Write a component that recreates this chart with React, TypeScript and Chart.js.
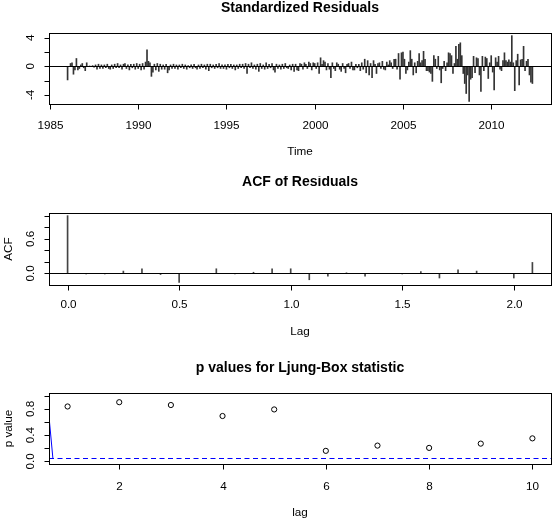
import { useEffect, useRef } from "react";
import { Chart, registerables } from "chart.js";

Chart.register(...registerables);

const FONT_FAMILY = '"Liberation Sans", Arial, Helvetica, sans-serif';
const TICK_FONT = `11.7px ${FONT_FAMILY}`;
const TITLE_FONT = `bold 14px ${FONT_FAMILY}`;
const WIDTH = 559;

// Monthly standardized residuals, Jan 1986 – May 2012
const residualStartYear = 1986;
const residualsPerYear = 12;
const residuals = [
  -1.9, 0.0, 0.4, 0.5, -1.1, -0.5, 1.1, -0.5, -0.3, 0.2, 0.4, -0.2, // 1986
  -0.6, 0.5, 0.0, 0.05, -0.05, 0.1, -0.1, 0.2, -0.4, 0.3, -0.3, 0.2, // 1987
  -0.3, 0.2, -0.2, 0.3, -0.3, -0.4, 0.2, -0.3, 0.3, -0.2, 0.4, -0.2, // 1988
  0.2, -0.4, 0.3, 0.4, -0.3, 0.2, -0.5, 0.3, -0.2, 0.3, -0.4, 0.4, // 1989
  -0.3, 0.3, -0.5, 0.4, -0.4, 0.6, 2.3, 0.7, 0.5, -1.4, -0.8, 0.3, // 1990
  -0.5, 0.4, -0.7, 0.3, -0.4, 0.2, -0.4, 0.3, -0.9, -0.5, 0.2, -0.3, // 1991
  0.3, -0.3, 0.2, -0.4, 0.2, -0.2, 0.3, -0.3, 0.2, -0.4, 0.1, -0.2, // 1992
  0.2, -0.3, 0.3, -0.2, -0.4, 0.2, -0.3, 0.3, -0.2, 0.2, -0.4, 0.3, // 1993
  -0.6, 0.3, -0.2, 0.2, -0.3, 0.3, -0.2, 0.4, -0.3, 0.2, -0.3, 0.2, // 1994
  -0.4, 0.3, -0.2, 0.3, -0.3, 0.2, -0.5, 0.2, -0.3, 0.3, -0.2, 0.3, // 1995
  -0.3, 0.4, -1.0, 0.3, -0.2, 0.5, -0.3, 0.2, -0.4, 0.3, -0.7, 0.4, // 1996
  -0.3, 0.2, -0.4, 0.5, -0.3, 0.3, -0.2, 0.4, -0.5, -0.8, 0.3, -0.3, // 1997
  0.2, -0.4, 0.3, -0.3, 0.4, -0.2, -0.3, 0.2, -0.5, 0.3, -0.7, 0.3, // 1998
  -0.5, -0.6, 0.4, 0.3, -0.4, 0.5, 0.3, -0.3, 0.6, 0.4, -0.5, 0.5, // 1999
  0.4, -0.3, 0.5, -1.0, 1.2, 0.3, 0.8, 0.6, -0.5, 0.4, -0.4, -1.6, // 2000
  0.5, -0.3, -0.6, 0.5, 0.3, -0.4, -0.7, 0.4, -0.3, -0.9, 0.3, 0.4, // 2001
  -0.3, 0.6, -0.5, -0.5, 0.3, -0.2, 0.3, -0.6, 0.5, -0.4, 1.0, -0.9, // 2002
  0.8, -1.2, 0.4, -1.6, 0.8, 0.3, -1.0, 0.4, 0.5, -0.3, 0.7, -0.4, // 2003
  -0.5, 0.6, 0.2, 0.8, 0.5, -0.3, 1.0, 1.0, -0.4, 1.8, -1.8, 1.9, // 2004
  2.0, 1.0, -1.0, -0.5, 0.6, 2.2, 1.0, -1.2, 0.5, -0.9, 0.7, 1.8, // 2005
  0.5, 0.8, 2.1, 1.0, -0.6, -0.6, -0.8, -1.0, -2.1, 1.5, 1.0, -0.3, // 2006
  1.4, -0.5, -2.3, -0.3, 0.7, -0.6, 0.5, 1.9, 1.8, 1.5, -1.0, 0.4, // 2007
  2.8, 1.0, 3.1, 3.3, 1.5, -1.0, -2.4, -3.8, -1.2, -4.9, -1.8, -1.6, // 2008
  1.4, -0.9, 1.2, 1.1, -1.2, -3.5, 1.4, -0.6, 1.3, 1.1, -1.7, 0.5, // 2009
  1.5, -0.8, -3.3, 1.2, 0.6, 1.4, -0.4, -0.6, 0.8, 1.9, 0.8, 0.6, // 2010
  0.9, 0.6, 4.3, 0.5, -3.4, 0.8, 1.7, -2.6, 0.9, 1.0, 2.8, -0.6, // 2011
  0.7, 1.0, -1.2, -2.2, -2.4, // 2012
];
const residualTimeRange = [1984.947, 2013.387];
const residualValueRange = [-5.27, 4.67];
const residualTimeTicks = [1985, 1990, 1995, 2000, 2005, 2010];
const residualValueTicks = [-4, -2, 0, 2, 4];
const residualValueLabels = [-4, 0, 4];

// Autocorrelation of the residuals at lags 0..25 months (lag shown in years)
const acfValues = [
  1.0, -0.01, -0.01, 0.04, 0.08, -0.02, -0.155, 0.0, 0.08, -0.01, 0.02, 0.08,
  0.08, -0.11, -0.05, 0.01, -0.05, 0.0, -0.01, 0.03, -0.08, 0.06, 0.04, 0.0,
  -0.08, 0.19,
];
const acfLagRange = [-0.0833, 2.1667];
const acfValueRange = [-0.201, 1.046];
const acfLagTicks = [0, 0.5, 1, 1.5, 2];
const acfValueTicks = [0, 0.2, 0.4, 0.6, 0.8, 1];
const acfValueLabels = [0, 0.6];

// Ljung-Box p values for lags 1..10
const ljungLags = [1, 2, 3, 4, 5, 6, 7, 8, 9, 10];
const ljungPValues = [0.835, 0.9, 0.857, 0.69, 0.79, 0.16, 0.24, 0.205, 0.27, 0.35];
const ljungTraceLags = [0.64, 0.715];
const ljungTraceValues = [0.68, 0.05];
const significanceLevel = 0.05;
const ljungLagRange = [0.64, 10.36];
const pValueRange = [-0.04, 1.04];
const ljungLagTicks = [2, 4, 6, 8, 10];
const pValueTicks = [0, 0.2, 0.4, 0.6, 0.8, 1];
const pValueLabels = [0, 0.4, 0.8];

type RefLine = { value: number; color: string; dash: number[] };
type FrameSpec = {
  title: string;
  titleY: number;
  xLabel: string;
  xLabelY: number;
  yLabel: string;
  xTicks: number[];
  xDigits: number;
  xTickLabelY: number;
  yTicks: number[];
  yLabels: number[];
  yDigits: number;
  refLines: RefLine[];
};

const TICK_LEN = 5;
const Y_TICK_LABEL_X = 31;
const Y_LABEL_X = 8.5;

// Draws an R-style frame: box, detached axes with outward ticks, rotated y labels, titles
function framePlugin(spec: FrameSpec) {
  return {
    id: "frame",
    afterDatasetsDraw(chart: any) {
      const { ctx, chartArea: a } = chart;
      const xs = chart.scales.x;
      const ys = chart.scales.y;
      const L = Math.round(a.left) + 0.5;
      const R = Math.round(a.right) + 0.5;
      const T = Math.round(a.top) + 0.5;
      const B = Math.round(a.bottom) + 0.5;

      ctx.save();
      ctx.beginPath();
      ctx.rect(a.left, a.top, a.right - a.left, a.bottom - a.top);
      ctx.clip();
      ctx.lineWidth = 1;
      for (const line of spec.refLines) {
        const y = Math.round(ys.getPixelForValue(line.value)) + 0.5;
        ctx.strokeStyle = line.color;
        ctx.setLineDash(line.dash);
        ctx.beginPath();
        ctx.moveTo(a.left, y);
        ctx.lineTo(a.right, y);
        ctx.stroke();
      }
      ctx.restore();

      ctx.save();
      ctx.strokeStyle = "#000";
      ctx.fillStyle = "#000";
      ctx.lineWidth = 1;
      ctx.setLineDash([]);
      ctx.strokeRect(L, T, R - L, B - T);

      // x axis
      const xp = spec.xTicks.map((v) => Math.round(xs.getPixelForValue(v)) + 0.5);
      ctx.beginPath();
      ctx.moveTo(xp[0], B);
      ctx.lineTo(xp[xp.length - 1], B);
      for (const x of xp) {
        ctx.moveTo(x, B);
        ctx.lineTo(x, B + TICK_LEN);
      }
      ctx.stroke();
      ctx.font = TICK_FONT;
      ctx.textAlign = "center";
      ctx.textBaseline = "middle";
      spec.xTicks.forEach((v, i) => {
        ctx.fillText(v.toFixed(spec.xDigits), xp[i], spec.xTickLabelY);
      });

      // y axis
      const yp = spec.yTicks.map((v) => Math.round(ys.getPixelForValue(v)) + 0.5);
      ctx.beginPath();
      ctx.moveTo(L, yp[0]);
      ctx.lineTo(L, yp[yp.length - 1]);
      for (const y of yp) {
        ctx.moveTo(L, y);
        ctx.lineTo(L - TICK_LEN, y);
      }
      ctx.stroke();
      for (const v of spec.yLabels) {
        const y = ys.getPixelForValue(v);
        ctx.save();
        ctx.translate(Y_TICK_LABEL_X, y);
        ctx.rotate(-Math.PI / 2);
        ctx.fillText(v.toFixed(spec.yDigits), 0, 0);
        ctx.restore();
      }

      // titles
      const cx = (a.left + a.right) / 2;
      ctx.fillText(spec.xLabel, cx, spec.xLabelY);
      if (spec.yLabel) {
        ctx.save();
        ctx.translate(Y_LABEL_X, (a.top + a.bottom) / 2);
        ctx.rotate(-Math.PI / 2);
        ctx.fillText(spec.yLabel, 0, 0);
        ctx.restore();
      }
      ctx.font = TITLE_FONT;
      ctx.fillText(spec.title, cx, spec.titleY);
      ctx.restore();
    },
  };
}

function baseOptions(padding: any, xRange: number[], yRange: number[]) {
  return {
    responsive: false,
    animation: false as const,
    events: [] as any[],
    layout: { padding },
    plugins: { legend: { display: false }, tooltip: { enabled: false } },
    scales: {
      x: { type: "linear" as const, min: xRange[0], max: xRange[1], display: false, offset: false },
      y: { type: "linear" as const, min: yRange[0], max: yRange[1], display: false },
    },
  };
}

export default function App() {
  const resRef = useRef<HTMLCanvasElement>(null);
  const acfRef = useRef<HTMLCanvasElement>(null);
  const lbRef = useRef<HTMLCanvasElement>(null);

  useEffect(() => {
    document.body.style.margin = "0";
    const charts: Chart[] = [];

    charts.push(
      new Chart(resRef.current!, {
        type: "bar",
        data: {
          datasets: [
            {
              data: residuals.map((v, i) => ({ x: residualStartYear + i / residualsPerYear, y: v })),
              backgroundColor: "#333",
              borderWidth: 0,
              barThickness: 1,
            },
          ],
        },
        options: baseOptions({ left: 49, right: 8, top: 33, bottom: 72 }, residualTimeRange, residualValueRange) as any,
        plugins: [
          framePlugin({
            title: "Standardized Residuals",
            titleY: 8,
            xLabel: "Time",
            xLabelY: 152,
            yLabel: "",
            xTicks: residualTimeTicks,
            xDigits: 0,
            xTickLabelY: 126,
            yTicks: residualValueTicks,
            yLabels: residualValueLabels,
            yDigits: 0,
            refLines: [{ value: 0, color: "#000", dash: [] }],
          }),
        ],
      })
    );

    charts.push(
      new Chart(acfRef.current!, {
        type: "bar",
        data: {
          datasets: [
            {
              data: acfValues.map((v, k) => ({ x: k / 12, y: v })),
              backgroundColor: "#444",
              borderWidth: 0,
              barThickness: 1,
            },
          ],
        },
        options: baseOptions({ left: 49, right: 8, top: 37, bottom: 66 }, acfLagRange, acfValueRange) as any,
        plugins: [
          framePlugin({
            title: "ACF of Residuals",
            titleY: 6.5,
            xLabel: "Lag",
            xLabelY: 155.7,
            yLabel: "ACF",
            xTicks: acfLagTicks,
            xDigits: 1,
            xTickLabelY: 128.5,
            yTicks: acfValueTicks,
            yLabels: acfValueLabels,
            yDigits: 1,
            refLines: [{ value: 0, color: "#000", dash: [] }],
          }),
        ],
      })
    );

    charts.push(
      new Chart(lbRef.current!, {
        type: "scatter",
        data: {
          datasets: [
            {
              data: ljungLags.map((x, i) => ({ x, y: ljungPValues[i] })),
              pointStyle: "circle",
              pointRadius: 2.6,
              pointBorderWidth: 1,
              pointBorderColor: "#000",
              pointBackgroundColor: "rgba(0,0,0,0)",
              showLine: false,
            },
            {
              type: "line",
              data: ljungTraceLags.map((x, i) => ({ x, y: ljungTraceValues[i] })),
              borderColor: "#0000ff",
              borderWidth: 1,
              pointRadius: 0,
              fill: false,
            },
          ],
        },
        options: baseOptions({ left: 49, right: 8, top: 42, bottom: 63 }, ljungLagRange, pValueRange) as any,
        plugins: [
          framePlugin({
            title: "p values for Ljung-Box statistic",
            titleY: 17.3,
            xLabel: "lag",
            xLabelY: 161.7,
            yLabel: "p value",
            xTicks: ljungLagTicks,
            xDigits: 0,
            xTickLabelY: 135.7,
            yTicks: pValueTicks,
            yLabels: pValueLabels,
            yDigits: 1,
            refLines: [{ value: significanceLevel, color: "#0000ff", dash: [5, 3.5] }],
          }),
        ],
      })
    );

    return () => charts.forEach((c) => c.destroy());
  }, []);

  return (
    <div style={{ position: "relative", width: WIDTH, height: 527, background: "#fff" }}>
      <canvas ref={resRef} width={WIDTH} height={176} style={{ position: "absolute", left: 0, top: 0 }} />
      <canvas ref={acfRef} width={WIDTH} height={175} style={{ position: "absolute", left: 0, top: 176 }} />
      <canvas ref={lbRef} width={WIDTH} height={176} style={{ position: "absolute", left: 0, top: 351 }} />
    </div>
  );
}
